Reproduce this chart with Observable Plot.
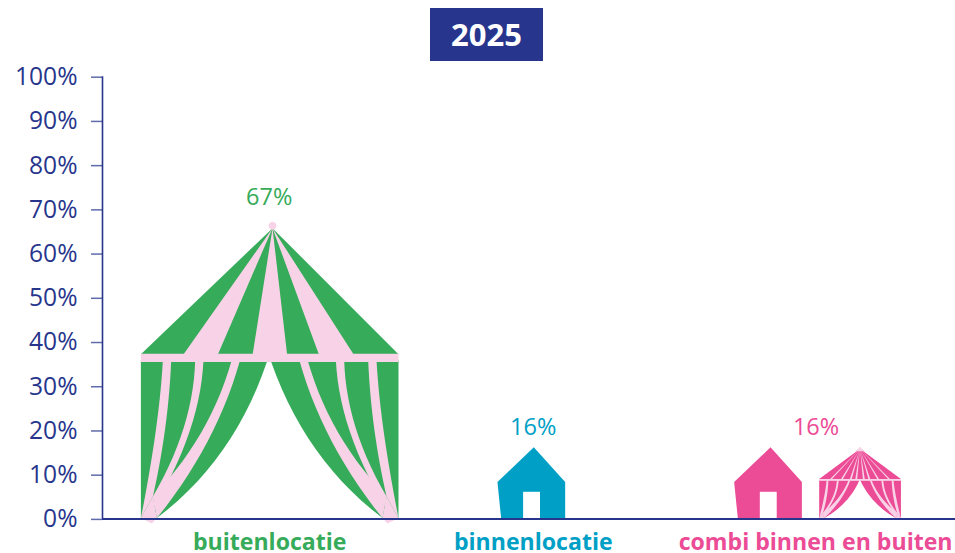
<!DOCTYPE html>
<html>
<head>
<meta charset="utf-8">
<script src="https://cdn.jsdelivr.net/npm/d3@7"></script>
<script src="https://cdn.jsdelivr.net/npm/@observablehq/plot@0.6"></script>
<style>
  html, body { margin: 0; padding: 0; background: #fff; font-family: "Open Sans", sans-serif; }
  #title { position: absolute; left: 430px; top: 8px; width: 113px; height: 53px; line-height: 53px;
           background: #27368c; color: #fff; text-align: center; font-weight: 700; font-size: 31px; }
  #chart { position: absolute; left: 0; top: 61px; }
  svg { display: block; overflow: visible; }
</style>
</head>
<body>
<div id="title"></div>
<div id="chart"></div>
<script>
const titleText = "2025";
const categories = ["buitenlocatie", "binnenlocatie", "combi binnen en buiten"];
const values = [67, 16, 16];
const yTicks = [0, 10, 20, 30, 40, 50, 60, 70, 80, 90, 100];

// Styles and layout, separate from the values
const navy = "#27368c", paleAxis = "#5f6cab";
const colours = ["#36ab5a", "#00a0c6", "#ec4b96"];
const paleStripe = "#f8d3e8";
const labelCentres = [19.6, 50.5, 83.6];
const valueCentres = [19.55, 50.5, 83.65];
const valueLabelHeights = [72.7, 20.6, 20.6];
// each pictogram: category index, kind, left edge and width on the hidden x scale
const glyphs = [
  {cat: 0, kind: "tent",  left: 4.5,   width: 30.2, fine: false},
  {cat: 1, kind: "house", left: 46.3,  width: 7.94},
  {cat: 2, kind: "house", left: 74.05, width: 7.94},
  {cat: 2, kind: "tent",  left: 84.02, width: 9.58, fine: true}
];

// Pictogram outlines in a drawing grid: x 0..773 (width), y 0..892 (apex..base).
const qb = (a, c, b, n = 14) => d3.range(n + 1).map(i => {
  const t = i / n, s = 1 - t;
  return [s*s*a[0] + 2*s*t*c[0] + t*t*b[0], s*s*a[1] + 2*s*t*c[1] + t*t*b[1]];
});
const mirror = pts => pts.map(([x, y]) => [773 - x, y]);
// left-hand drape stripes: left edge and right edge, as quadratic control triples
const stripes = [
  {cx: 78.5,  l: [[66,415],[56,607],[0,892]],    r: [[91,415],[83,617],[36,827]]},
  {cx: 175.5, l: [[163,415],[158,617],[36,827]], r: [[188,415],[178,627],[40,857]]},
  {cx: 285.5, l: [[273,415],[208,647],[36,827]], r: [[298,415],[228,667],[48,892]]}
];
function stripe(s, f) {
  const sq = p => [[s.cx + (p[0][0] - s.cx) * f, p[0][1]], p[1], p[2]];
  return [...qb(...sq(s.l)), ...qb(...sq(s.r)).reverse()];
}
const drape = x0 => [[0,415],[x0,415],...qb([x0,422],[278,717],[48,892]),[0,892]];
function tentParts(fine) {
  const band = fine ? [400, 420] : [397, 422];
  const apex = fine ? 386.5 : 395;
  const parts = [
    {p: "main", pts: [[apex,19],[0,399],[773,399]]},
    {p: "main", pts: drape(378)},
    {p: "main", pts: mirror(drape(382))}
  ];
  const f = fine ? 0.7 : 1;
  stripes.forEach(s => {
    parts.push({p: "pale", pts: stripe(s, f)});
    parts.push({p: "pale", pts: mirror(stripe(s, f))});
  });
  const tip = [[0,892],[36,827],[48,892],[33,908]];
  parts.push({p: "pale", pts: tip}, {p: "pale", pts: mirror(tip)});
  // roof stripes, as their left and right end along the band
  const roofStripes = fine
    ? [-276,-172,-88,-36,36,88,172,276].map(o => [386.5 + o - 9, 386.5 + o + 9])
    : [[126,230],[335,439],[535,640]];
  roofStripes.forEach(([a, b]) =>
    parts.push({p: "pale", pts: [[apex,19],[a,402],[b,402]]}));
  parts.push({p: "pale", pts: [[0,band[0]],[773,band[0]],[773,band[1]],[0,band[1]]]});
  parts.push({p: "pale", pts: d3.range(12).map(i => {
    const a = i / 12 * 2 * Math.PI;
    return [apex + 12 * Math.cos(a), 12 + 12 * Math.sin(a)];
  })});
  if (fine) parts.push({p: "pale", pts: [[386.5,0],[340,50],[433,50]]});
  return parts;
}
function houseParts() {
  return [
    {p: "main", pts: [[0,438],[415,0],[773,438],[773,892],[42,892]]},
    {p: "door", pts: [[293,560],[486,560],[486,892],[293,892]]}
  ];
}

// Flatten every pictogram into line-mark rows on the shared scales
const rows = [];
let id = 0;
glyphs.forEach(g => {
  const v = values[g.cat];
  const parts = g.kind === "tent" ? tentParts(g.fine) : houseParts();
  parts.forEach(part => {
    id++;
    const fill = part.p === "main" ? colours[g.cat] : part.p === "pale" ? paleStripe : "#ffffff";
    part.pts.forEach(([gx, gy]) => rows.push({
      id, fill,
      x: g.left + gx / 773 * g.width,
      y: v * (1 - gy / 892) + 0.2
    }));
  });
});

const table = categories.map((c, i) => ({
  c, v: values[i], colour: colours[i], lx: labelCentres[i], vx: valueCentres[i], vy: valueLabelHeights[i]
}));

document.getElementById("title").textContent = titleText;

const chart = Plot.plot({
  width: 955,
  height: 492,
  marginLeft: 102,
  marginRight: 0,
  marginTop: 15.3,
  marginBottom: 34.5,
  style: {fontFamily: "'Open Sans', sans-serif", background: "transparent"},
  x: {domain: [0, 100], axis: null},
  y: {domain: [0, 100], label: null},
  color: {type: "identity"},
  marks: [
    Plot.line(rows, {x: "x", y: "y", z: "id", fill: "fill", stroke: "none", curve: "linear"}),
    Plot.axisY({
      ticks: yTicks, tickFormat: d => d + "%", tickSize: 11, tickPadding: 14, dy: 0.4,
      fontSize: 24.6, stroke: paleAxis, strokeOpacity: 1, strokeWidth: 1.5, fill: navy, label: null
    }),
    Plot.ruleX([0], {stroke: navy, strokeWidth: 1.6}),
    Plot.ruleY([0], {stroke: navy, strokeWidth: 1.8}),
    Plot.text(table, {
      x: "vx", y: "vy", text: d => d.v + "%", fill: "colour",
      fontSize: 23.5
    }),
    Plot.text(table, {
      x: "lx", y: () => 0, text: "c", fill: "colour",
      dy: 24, fontSize: 23.1, fontWeight: 700
    })
  ]
});
document.getElementById("chart").appendChild(chart);
</script>
</body>
</html>
